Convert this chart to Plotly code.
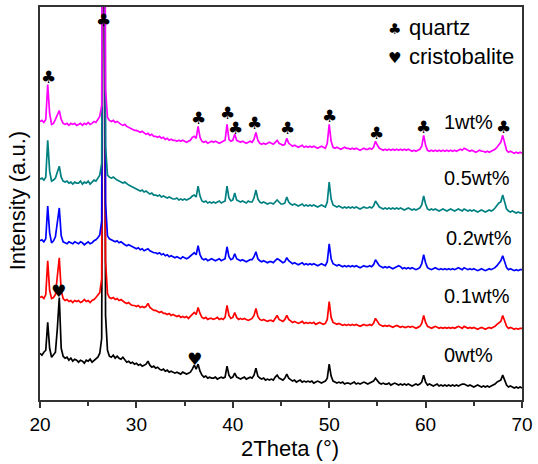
import numpy as np
import plotly.graph_objects as go

# 2-theta sampling grid (degrees)
two_theta = np.round(20 + 0.2 * np.arange(251), 1)

# Diffracted intensity (a.u.) of each sample, one value per grid step
counts_0wt = [
    47, 45, 48, 50, 78, 52, 43, 45, 48, 72,
    103, 52, 44, 42, 43, 40, 42, 39, 41, 40,
    38, 40, 39, 37, 40, 39, 41, 38, 40, 42,
    43, 47, 62, 700, 85, 50, 44, 43, 45, 42,
    44, 42, 41, 43, 40, 38, 39, 37, 38, 36,
    37, 35, 36, 34, 35, 36, 39, 35, 33, 34,
    32, 33, 31, 30, 31, 29, 30, 28, 29, 28,
    27, 28, 27, 26, 28, 27, 26, 27, 28, 31,
    35, 31, 36, 29, 25, 23, 24, 22, 23, 22,
    22, 23, 21, 22, 23, 22, 23, 34, 25, 22,
    23, 27, 23, 22, 21, 22, 23, 21, 22, 23,
    22, 25, 32, 24, 22, 21, 22, 20, 21, 20,
    21, 20, 23, 25, 22, 21, 20, 22, 26, 22,
    20, 19, 20, 18, 19, 20, 18, 19, 18, 19,
    18, 19, 17, 18, 19, 18, 17, 18, 19, 22,
    36, 24, 19, 18, 17, 18, 17, 18, 16, 17,
    17, 16, 17, 18, 16, 17, 16, 17, 18, 17,
    16, 17, 18, 19, 22, 19, 17, 16, 17, 16,
    16, 17, 15, 16, 17, 16, 15, 16, 15, 16,
    15, 16, 15, 14, 15, 16, 15, 16, 18, 25,
    18, 15, 16, 15, 14, 15, 16, 14, 15, 14,
    15, 14, 15, 14, 15, 14, 15, 14, 15, 16,
    16, 15, 14, 15, 14, 13, 14, 15, 14, 13,
    14, 13, 14, 13, 14, 15, 16, 18, 19, 20,
    25, 20, 15, 13, 14, 13, 12, 13, 12, 13,
    12,
]

counts_01wt = [
    43, 44, 42, 46, 80, 50, 42, 43, 46, 65,
    83, 50, 42, 40, 41, 39, 40, 38, 40, 39,
    40, 38, 39, 41, 39, 40, 38, 40, 41, 43,
    45, 48, 62, 700, 80, 47, 43, 42, 43, 41,
    42, 40, 41, 39, 38, 37, 38, 36, 35, 35,
    34, 35, 33, 34, 33, 34, 37, 33, 31, 30,
    30, 29, 28, 29, 27, 27, 26, 27, 25, 26,
    25, 24, 25, 23, 24, 23, 24, 22, 24, 26,
    28, 26, 33, 27, 23, 22, 23, 21, 22, 22,
    21, 22, 23, 21, 22, 21, 23, 35, 25, 22,
    23, 28, 23, 21, 22, 21, 22, 21, 20, 21,
    22, 25, 32, 24, 21, 20, 21, 20, 19, 20,
    20, 19, 22, 25, 21, 20, 19, 21, 25, 21,
    19, 18, 19, 18, 17, 18, 19, 17, 18, 17,
    18, 17, 18, 16, 17, 18, 17, 16, 17, 21,
    39, 23, 18, 17, 16, 17, 16, 15, 16, 15,
    16, 15, 16, 15, 16, 15, 14, 15, 16, 15,
    15, 16, 15, 17, 22, 19, 16, 15, 14, 15,
    14, 15, 14, 13, 14, 15, 14, 13, 14, 13,
    13, 14, 13, 14, 13, 12, 13, 14, 17, 25,
    18, 14, 13, 12, 13, 14, 13, 12, 13, 12,
    13, 12, 13, 12, 13, 12, 13, 14, 13, 12,
    14, 13, 12, 13, 12, 13, 12, 11, 12, 13,
    12, 11, 12, 13, 12, 13, 14, 16, 18, 19,
    25, 19, 14, 12, 13, 12, 11, 12, 11, 12,
    12,
]

counts_02wt = [
    40, 41, 39, 42, 75, 48, 38, 40, 44, 62,
    73, 45, 39, 38, 37, 39, 38, 37, 39, 38,
    37, 39, 38, 36, 38, 39, 37, 38, 40, 41,
    43, 46, 60, 700, 78, 45, 42, 41, 40, 39,
    40, 38, 39, 37, 36, 35, 36, 35, 34, 33,
    32, 33, 31, 32, 30, 31, 32, 30, 29, 28,
    28, 27, 28, 26, 27, 25, 26, 24, 25, 24,
    23, 24, 23, 22, 24, 23, 22, 23, 25, 27,
    28, 26, 35, 26, 22, 21, 22, 20, 21, 22,
    21, 20, 21, 22, 20, 21, 22, 34, 24, 21,
    22, 27, 22, 21, 20, 21, 20, 19, 20, 21,
    21, 24, 29, 22, 20, 19, 20, 19, 18, 19,
    19, 18, 20, 22, 21, 19, 18, 19, 23, 20,
    18, 17, 18, 17, 16, 17, 18, 16, 17, 16,
    17, 16, 17, 16, 15, 16, 17, 16, 15, 19,
    37, 22, 17, 16, 15, 16, 15, 14, 15, 14,
    15, 14, 15, 14, 15, 14, 13, 14, 15, 14,
    14, 15, 14, 16, 21, 18, 15, 14, 13, 14,
    13, 14, 13, 12, 13, 14, 15, 14, 12, 13,
    12, 13, 12, 13, 12, 11, 12, 13, 17, 26,
    18, 13, 12, 11, 12, 13, 12, 11, 12, 11,
    12, 11, 12, 11, 12, 11, 12, 13, 12, 11,
    13, 12, 11, 12, 11, 12, 11, 10, 11, 12,
    11, 10, 11, 12, 11, 12, 13, 15, 18, 20,
    25, 18, 13, 11, 12, 11, 10, 11, 10, 11,
    11,
]

counts_05wt = [
    42, 43, 41, 44, 81, 50, 40, 41, 43, 50,
    55, 44, 40, 39, 40, 38, 39, 37, 39, 38,
    38, 40, 37, 39, 38, 40, 37, 39, 41, 40,
    43, 46, 58, 700, 75, 46, 44, 43, 44, 42,
    41, 40, 39, 38, 39, 37, 36, 35, 34, 33,
    32, 31, 30, 31, 29, 30, 28, 27, 28, 26,
    26, 25, 26, 24, 25, 24, 23, 24, 23, 22,
    22, 23, 21, 22, 21, 22, 21, 22, 23, 25,
    26, 24, 35, 25, 20, 19, 20, 18, 19, 18,
    19, 18, 19, 20, 18, 19, 20, 35, 23, 20,
    21, 28, 21, 20, 19, 20, 19, 18, 20, 19,
    19, 23, 31, 22, 19, 18, 19, 18, 17, 18,
    18, 17, 19, 21, 19, 17, 17, 18, 24, 19,
    17, 16, 17, 16, 15, 16, 17, 15, 16, 15,
    16, 15, 16, 15, 14, 15, 16, 15, 14, 19,
    39, 22, 16, 15, 14, 15, 14, 13, 14, 13,
    14, 13, 14, 13, 14, 13, 12, 13, 14, 13,
    13, 14, 13, 15, 20, 17, 14, 13, 12, 13,
    12, 13, 12, 13, 12, 13, 12, 13, 12, 11,
    12, 13, 12, 11, 12, 11, 12, 13, 16, 25,
    17, 12, 11, 12, 11, 12, 11, 10, 11, 12,
    11, 10, 11, 12, 11, 10, 11, 12, 11, 10,
    12, 11, 10, 11, 10, 11, 10, 9, 10, 11,
    10, 9, 10, 11, 10, 11, 13, 16, 18, 19,
    26, 19, 12, 10, 9, 10, 9, 8, 9, 8,
    8,
]

counts_1wt = [
    40, 41, 39, 42, 77, 48, 37, 38, 42, 47,
    51, 42, 38, 37, 38, 36, 38, 37, 38, 36,
    37, 38, 36, 38, 37, 39, 37, 38, 40, 39,
    42, 45, 56, 700, 72, 44, 41, 40, 41, 39,
    40, 38, 37, 36, 37, 35, 34, 33, 32, 31,
    31, 30, 29, 30, 28, 27, 28, 26, 27, 25,
    25, 24, 25, 23, 24, 22, 23, 21, 22, 21,
    21, 20, 21, 20, 21, 20, 19, 20, 21, 24,
    25, 23, 35, 24, 20, 19, 20, 18, 19, 20,
    19, 20, 19, 18, 19, 20, 21, 37, 22, 20,
    21, 27, 21, 20, 19, 20, 19, 18, 19, 20,
    19, 22, 29, 21, 18, 17, 18, 17, 18, 19,
    18, 17, 19, 21, 18, 17, 16, 17, 23, 18,
    16, 15, 16, 15, 14, 15, 16, 14, 15, 14,
    15, 14, 15, 14, 13, 14, 15, 14, 13, 18,
    37, 20, 14, 13, 14, 13, 12, 13, 14, 13,
    13, 12, 13, 12, 13, 12, 11, 12, 13, 12,
    12, 13, 12, 14, 20, 16, 13, 12, 11, 12,
    11, 12, 11, 12, 11, 12, 11, 12, 11, 12,
    11, 12, 11, 10, 11, 10, 11, 12, 15, 26,
    16, 11, 10, 11, 10, 11, 10, 11, 10, 11,
    10, 11, 10, 11, 10, 11, 10, 11, 12, 11,
    13, 12, 11, 10, 11, 10, 9, 10, 11, 10,
    10, 9, 10, 9, 10, 11, 12, 14, 17, 19,
    26, 18, 11, 9, 10, 9, 8, 9, 8, 9,
    8,
]

samples = ["0wt%", "0.1wt%", "0.2wt%", "0.5wt%", "1wt%"]
patterns = [counts_0wt, counts_01wt, counts_02wt, counts_05wt, counts_1wt]
stack_offsets = [0, 60, 120, 180, 240]
colors = ["#000000", "#ff0000", "#0000ff", "#008080", "#ff00ff"]

# Phase markers: peak position (2theta) and marker height
quartz_pos = [20.85, 26.6, 36.45, 39.4, 40.3, 42.3, 45.65, 50.0, 54.9, 59.75, 68.05]
quartz_y = [325, 382, 283, 288, 273, 278, 273, 285, 268, 274, 274]
cristobalite_pos = [21.9, 36.0]
cristobalite_y = [110, 41]

# Sample-label anchor (left edge, vertical centre) in pixels of the plot frame
label_px = [(447, 355), (447, 295), (449, 237), (447, 177), (447, 121)]

PLOT_L, PLOT_R, PLOT_T, PLOT_B = 40, 527, 5, 400
W, H = 538, 464


def paper_x(px):
    return (px - PLOT_L) / (PLOT_R - PLOT_L)


def paper_y(py):
    return (PLOT_B - py) / (PLOT_B - PLOT_T)


fig = go.Figure()
for name, pat, off, col in zip(samples, patterns, stack_offsets, colors):
    assert len(pat) == len(two_theta)
    fig.add_trace(go.Scatter(
        x=two_theta, y=np.array(pat) + off, mode="lines", name=name,
        line=dict(color=col, width=1.7), showlegend=False, hoverinfo="skip",
    ))

TEXT_FONT = "Liberation Sans, Arial, sans-serif"
SYM_FONT = "DejaVu Sans"
annotations = []
for x, y in zip(quartz_pos, quartz_y):
    annotations.append(dict(x=x, y=y, xref="x", yref="y", text="♣", showarrow=False,
                            xanchor="center", yanchor="middle", borderpad=0,
                            font=dict(family=SYM_FONT, size=17, color="black")))
for x, y in zip(cristobalite_pos, cristobalite_y):
    annotations.append(dict(x=x, y=y, xref="x", yref="y", text="♥", showarrow=False,
                            xanchor="center", yanchor="middle", borderpad=0,
                            font=dict(family=SYM_FONT, size=17, color="black")))

for name, (px, py) in zip(samples, label_px):
    annotations.append(dict(x=paper_x(px), y=paper_y(py), xref="paper", yref="paper",
                            text=name, showarrow=False, xanchor="left", yanchor="middle",
                            borderpad=0,
                            font=dict(family=TEXT_FONT, size=20, color="black")))

# Phase key
for sym, label, py in [("♣", "quartz", 26), ("♥", "cristobalite", 55)]:
    annotations.append(dict(x=paper_x(398), y=paper_y(py + 1), xref="paper", yref="paper",
                            text=sym, showarrow=False, xanchor="center", yanchor="middle",
                            font=dict(family=SYM_FONT, size=15, color="black")))
    annotations.append(dict(x=paper_x(412), y=paper_y(py), xref="paper", yref="paper",
                            text=label, showarrow=False, xanchor="left", yanchor="middle",
                            borderpad=0,
                            font=dict(family=TEXT_FONT, size=22, color="black")))

# Axis titles
annotations.append(dict(x=paper_x(293), y=paper_y(449), xref="paper", yref="paper",
                        text="2Theta (°)", showarrow=False, xanchor="center", yanchor="middle",
                        font=dict(family=TEXT_FONT, size=22, color="black")))
annotations.append(dict(x=paper_x(17), y=paper_y(200), xref="paper", yref="paper",
                        text="Intensity (a.u.)", showarrow=False, textangle=-90,
                        xanchor="center", yanchor="middle",
                        font=dict(family=TEXT_FONT, size=22, color="black")))

fig.update_layout(
    width=W, height=H,
    margin=dict(l=PLOT_L, r=W - PLOT_R, t=PLOT_T, b=H - PLOT_B, pad=0),
    paper_bgcolor="white", plot_bgcolor="white",
    annotations=annotations,
    xaxis=dict(
        range=[20, 70], tickmode="linear", tick0=20, dtick=10,
        ticks="outside", ticklen=6, tickwidth=1.5, tickcolor="#333333",
        minor=dict(dtick=5, ticks="outside", ticklen=4, tickwidth=1.5, tickcolor="#333333"),
        showline=True, linecolor="#333333", linewidth=1.5, mirror=True,
        showgrid=False, zeroline=False,
        tickfont=dict(family=TEXT_FONT, size=19, color="black"),
    ),
    yaxis=dict(
        range=[0, PLOT_B - PLOT_T], showticklabels=False, ticks="",
        showline=True, linecolor="#333333", linewidth=1.5, mirror=True,
        showgrid=False, zeroline=False,
    ),
)

fig.write_html("out.html")
